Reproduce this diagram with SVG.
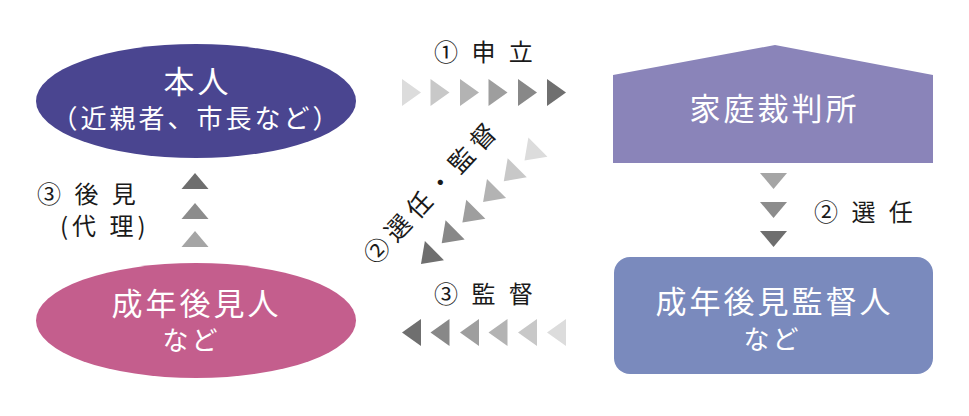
<svg xmlns="http://www.w3.org/2000/svg" width="969" height="416" viewBox="0 0 969 416">
<style>
text{font-family:"Noto Sans CJK JP","Noto Sans",sans-serif;}
.nt{fill:#ffffff;text-anchor:middle;}
.big{font-size:31px;letter-spacing:3px;}
.sub{font-size:26px;letter-spacing:3px;}
.lb{fill:#1a1a1a;font-size:24px;letter-spacing:4px;}
</style>
<defs>
<path id="tr" d="M-9.5,-13.5 L9.5,0 L-9.5,13.5 Z"/>
<path id="td" d="M-13.5,-8 L13.5,-8 L0,8 Z"/>
</defs>
<rect width="969" height="416" fill="#ffffff"/>
<g id="honnin">
<ellipse cx="196" cy="101" rx="160" ry="57" fill="#4a4590"/>
<text class="nt big" x="197.5" y="93">本人</text>
<text class="nt sub" x="196.5" y="128">（近親者、市長など）</text>
</g>
<g id="court">
<polygon points="613,75 775,45 933,75 933,163 613,163" fill="#8a84b9"/>
<text class="nt big" x="774.5" y="120">家庭裁判所</text>
</g>
<g id="guardian">
<ellipse cx="196" cy="320.5" rx="160" ry="57.5" fill="#c45e8d"/>
<text class="nt big" x="196.5" y="315">成年後見人</text>
<text class="nt sub" x="191.5" y="350">など</text>
</g>
<g id="supervisor">
<rect x="614" y="257" width="319" height="117" rx="16" fill="#7a8abd"/>
<text class="nt big" x="774.5" y="313">成年後見監督人</text>
<text class="nt sub" x="772.5" y="349">など</text>
</g>
<g id="connectors">
<g id="c1">
<use href="#tr" x="411.5" y="92.5" fill="#dcdcdc"/>
<use href="#tr" x="440" y="92.5" fill="#c8c8c8"/>
<use href="#tr" x="469.5" y="92.5" fill="#b3b3b3"/>
<use href="#tr" x="498" y="92.5" fill="#9e9e9e"/>
<use href="#tr" x="527.5" y="92.5" fill="#888888"/>
<use href="#tr" x="556.5" y="92.5" fill="#6f6f6f"/>
<text class="lb" x="434" y="61">① 申 立</text>
</g>
<g id="c2">
<use href="#tr" transform="translate(531.2,153.8) rotate(135)" fill="#dcdcdc"/>
<use href="#tr" transform="translate(510.5,174.5) rotate(135)" fill="#c8c8c8"/>
<use href="#tr" transform="translate(489.8,195.2) rotate(135)" fill="#b3b3b3"/>
<use href="#tr" transform="translate(469.1,215.9) rotate(135)" fill="#9e9e9e"/>
<use href="#tr" transform="translate(448.4,236.6) rotate(135)" fill="#888888"/>
<use href="#tr" transform="translate(427.7,257.3) rotate(135)" fill="#6f6f6f"/>
<text fill="#1a1a1a" font-size="25" letter-spacing="6" text-anchor="middle" x="3" y="9" transform="translate(430,194) rotate(-47)">②選任・監督</text>
</g>
<g id="c3">
<use href="#td" x="773.5" y="181" fill="#a5a5a5"/>
<use href="#td" x="773.5" y="210" fill="#8c8c8c"/>
<use href="#td" x="773.5" y="239" fill="#6e6e6e"/>
<text class="lb" x="814" y="221">② 選 任</text>
</g>
<g id="c4">
<use href="#td" transform="translate(195,181) rotate(180)" fill="#6e6e6e"/>
<use href="#td" transform="translate(195,211) rotate(180)" fill="#8c8c8c"/>
<use href="#td" transform="translate(195,239) rotate(180)" fill="#a5a5a5"/>
<text class="lb" x="37" y="203">③ 後 見</text>
<text class="lb" x="60" y="235">(代 理)</text>
</g>
<g id="c5">
<use href="#tr" transform="translate(411.5,332.5) rotate(180)" fill="#6f6f6f"/>
<use href="#tr" transform="translate(440,332.5) rotate(180)" fill="#888888"/>
<use href="#tr" transform="translate(469.5,332.5) rotate(180)" fill="#9e9e9e"/>
<use href="#tr" transform="translate(498,332.5) rotate(180)" fill="#b3b3b3"/>
<use href="#tr" transform="translate(527.5,332.5) rotate(180)" fill="#c8c8c8"/>
<use href="#tr" transform="translate(556.5,332.5) rotate(180)" fill="#dcdcdc"/>
<text class="lb" x="434" y="303">③ 監 督</text>
</g>
</g>
</svg>
